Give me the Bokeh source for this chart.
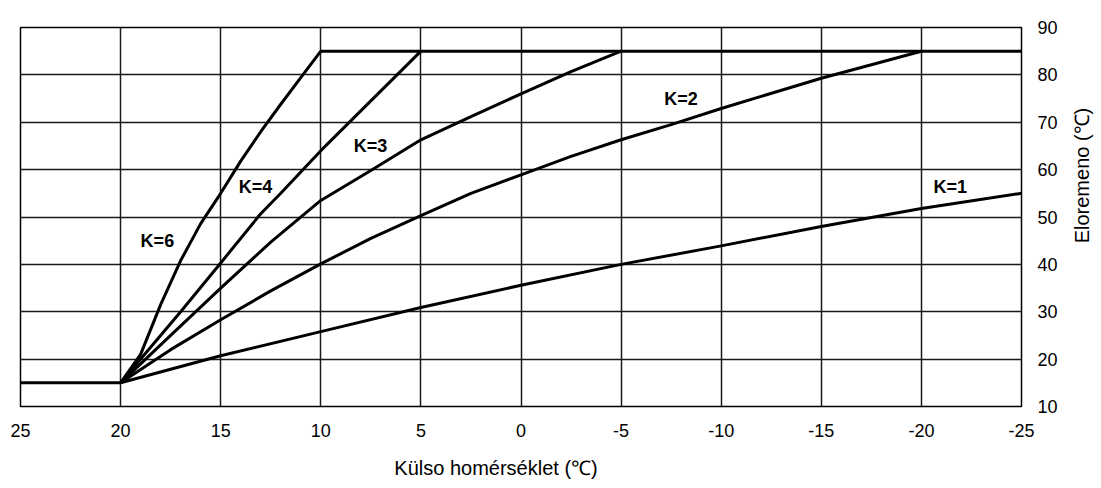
import math
from bokeh.plotting import figure
from bokeh.models import Range1d, FixedTicker, Label
from bokeh.layouts import row, column
from bokeh.embed import file_html
from bokeh.resources import INLINE

# ---- data ----
x_ticks = [25, 20, 15, 10, 5, 0, -5, -10, -15, -20, -25]
y_ticks = [10, 20, 30, 40, 50, 60, 70, 80, 90]

base_x = [25, 20]
base_y = [15, 15]
top_x = [10, -25]
top_y = [85, 85]

k1_x = [20, 15, 10, 5, 0, -5, -10, -15, -20, -25]
k1_y = [15, 20.7, 25.8, 30.9, 35.6, 40, 43.9, 48, 51.8, 55]
k2_x = [20, 17.5, 15, 12.5, 10, 7.5, 5, 2.5, 0, -2.5, -5, -7.5, -10, -15, -20]
k2_y = [15, 22, 28.3, 34.4, 40.1, 45.5, 50.3, 55, 58.9, 62.8, 66.3, 69.5, 72.9, 79.3, 85]
k3_x = [20, 17.5, 15, 12.5, 10, 7.5, 5, 2.5, 0, -2.5, -5]
k3_y = [15, 25, 35, 44.7, 53.5, 59.8, 66.3, 71.2, 76, 80.7, 85]
k4_x = [20, 17, 15, 13, 12, 10, 7.5, 5]
k4_y = [15, 30, 40.3, 50.7, 55, 64, 74.5, 85]
k6_x = [20, 19, 18, 17, 16, 15, 14, 13, 12, 11, 10]
k6_y = [15, 21, 31.5, 40.8, 48.6, 55, 61.8, 68, 73.8, 79.4, 85]

curve_names = ["K=6", "K=4", "K=3", "K=2", "K=1"]
name_x = [19.0, 14.1, 8.35, -7.15, -20.6]
name_y = [45, 56.4, 65, 75, 56.4]

x_title = "Külso homérséklet (℃)"
y_title = "Eloremeno (℃)"

FONT = "Liberation Sans"

# ---- main chart ----
p = figure(width=1060, height=448, output_backend="svg", toolbar_location=None,
           x_range=Range1d(25, -25), y_range=Range1d(10, 90),
           y_axis_location="right",
           min_border_left=20, min_border_top=27, min_border_bottom=42, min_border_right=39)
p.background_fill_color = "white"
p.border_fill_color = "white"
p.outline_line_color = "black"
p.outline_line_width = 1.5

for ax in (p.xaxis[0], p.yaxis[0]):
    ax.axis_line_color = None
    ax.major_tick_line_color = None
    ax.minor_tick_line_color = None
    ax.major_label_text_font = FONT
    ax.major_label_text_font_size = "18px"
    ax.major_label_text_color = "black"

p.xaxis.ticker = FixedTicker(ticks=x_ticks)
p.yaxis.ticker = FixedTicker(ticks=y_ticks)
p.xaxis.major_label_overrides = {t: str(t) for t in x_ticks}
p.yaxis.major_label_overrides = {t: str(t) for t in y_ticks}
p.xaxis.major_label_standoff = 11
p.yaxis.major_label_standoff = 10

p.xgrid.ticker = FixedTicker(ticks=x_ticks)
p.ygrid.ticker = FixedTicker(ticks=y_ticks)
p.grid.grid_line_color = "#1a1a1a"
p.grid.grid_line_width = 1.5
p.grid.grid_line_alpha = 1.0

LW = 3
for xs, ys in [(base_x, base_y), (top_x, top_y), (k1_x, k1_y), (k2_x, k2_y),
               (k3_x, k3_y), (k4_x, k4_y), (k6_x, k6_y)]:
    p.line(xs, ys, line_color="black", line_width=LW, line_join="round")

for t, lx, ly in zip(curve_names, name_x, name_y):
    p.add_layout(Label(x=lx, y=ly, text=t, text_font=FONT, text_font_size="18px",
                       text_font_style="bold", text_align="left", text_baseline="middle",
                       text_color="black"))


def blank(w, h):
    f = figure(width=w, height=h, output_backend="svg", toolbar_location=None,
               x_range=Range1d(0, w), y_range=Range1d(0, h),
               x_axis_location=None, y_axis_location=None,
               min_border_left=0, min_border_right=0, min_border_top=0, min_border_bottom=0)
    f.grid.visible = False
    f.outline_line_color = None
    f.background_fill_color = "white"
    f.border_fill_color = "white"
    return f


# ---- y axis title (right, reading upwards) ----
py = blank(41, 448)
py.add_layout(Label(x=21, y=273, text=y_title, text_font=FONT, text_font_size="20px",
                    text_align="center", text_baseline="middle", text_color="black",
                    angle=math.pi / 2, angle_units="rad"))

# ---- x axis title (below) ----
px = blank(1101, 40)
px.add_layout(Label(x=495.5, y=21, text=x_title, text_font=FONT, text_font_size="20px",
                    text_align="center", text_baseline="middle", text_color="black"))

layout = column(row(p, py), px)
layout.spacing = 0

open("out.html", "w").write(file_html(layout, INLINE))
